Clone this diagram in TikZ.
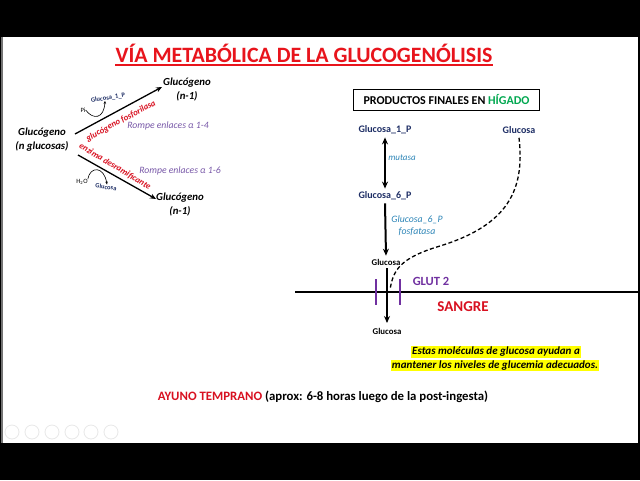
\documentclass[tikz,border=0pt]{standalone}
\usepackage{fontspec}
\setmainfont{Carlito}
\usetikzlibrary{arrows.meta}
\definecolor{tred}{HTML}{E8141C}
\definecolor{dred}{HTML}{D81020}
\definecolor{navy}{HTML}{1F2F66}
\definecolor{teal}{HTML}{2E86B8}
\definecolor{purp}{HTML}{7030A0}
\definecolor{lpurp}{HTML}{7858A8}
\definecolor{hgreen}{HTML}{00A850}
\definecolor{hyel}{HTML}{FFFF00}
\begin{document}
\begin{tikzpicture}[x=1pt,y=-1pt,
  lbl/.style={inner sep=0pt, align=center},
  bigglc/.style={lbl, font=\fontsize{10.8}{14}\selectfont\bfseries\itshape},
  rompe/.style={lbl, text=lpurp, font=\fontsize{9.7}{11}\selectfont\itshape},
  enz/.style={lbl, text=dred, font=\fontsize{8.7}{10}\selectfont\bfseries\itshape},
  tiny/.style={lbl, font=\fontsize{6.5}{8}\selectfont},
  tinyglc/.style={lbl, text=navy, font=\fontsize{6.5}{8}\selectfont\bfseries},
  rglc/.style={lbl, text=navy, font=\fontsize{10}{11}\selectfont\bfseries},
  bglc/.style={lbl, text=black, font=\fontsize{8.8}{10}\selectfont\bfseries},
  enzr/.style={lbl, text=teal, font=\fontsize{9.8}{12}\selectfont\itshape},
  thinarrow/.style={line width=1.3pt, -{Stealth[length=6pt,width=5pt]}},
  thickarrow/.style={line width=2pt, -{Stealth[length=7pt,width=6pt]}},
  smallcurve/.style={line width=0.6pt, -{Stealth[length=3pt,width=2.5pt]}},
  playbtn/.style={draw=black!9, line width=0.8pt}
]
\useasboundingbox (0,0) rectangle (640,480);
\fill[black] (0,0) rectangle (640,480);
\fill[white] (1,37) rectangle (638,443);
\fill[black!55] (1,37) rectangle (2.5,443);

% title
\node[lbl, text=tred, font=\fontsize{21.9}{24}\selectfont\bfseries] (title) at (304,53) {VÍA METABÓLICA DE LA GLUCOGENÓLISIS};
\draw[tred, line width=1.6pt] ([yshift=-2.6pt]title.base west) -- ([yshift=-2.6pt]title.base east);

% ---------- left ----------
\node[bigglc] (gn) at (42,140) {Glucógeno\\(n glucosas)};
\node[bigglc] (gtop) at (187,90) {Glucógeno\\(n-1)};
\node[bigglc] (gbot) at (180,205) {Glucógeno\\(n-1)};
\coordinate (a1s) at (75,134);
\coordinate (a1e) at (162,87);
\coordinate (a2s) at (78,155);
\coordinate (a2e) at (156,199);
\draw[thinarrow] (a1s) -- (a1e);
\draw[thinarrow] (a2s) -- (a2e);
\node[enz, rotate=28] (fosf) at (121,121) {glucógeno fosforilasa};
\node[enz, rotate=-31] (desr) at (115,166.5) {enzima desramificante};
\node[rompe] (r14) at (168,126) {Rompe enlaces α 1-4};
\node[rompe] (r16) at (180,171) {Rompe enlaces α 1-6};

\node[tiny] (pi) at (83,110) {Pi};
\node[tinyglc, rotate=9] (g1pl) at (108,98) {Glucosa\_1\_P};
\draw[smallcurve] (pi.east) .. controls (93,120) and (104,119) .. (g1pl.south -| 105,0);

\node[tiny] (h2o) at (82,182) {H\textsubscript{2}O};
\node[tinyglc, rotate=-8] (glcl) at (106,187) {Glucosa};
\draw[smallcurve] (h2o.north east) .. controls (90,166) and (104,166) .. (glcl.north -| 107,0);

% ---------- right ----------
\node[draw=black, line width=1.8pt, inner xsep=4pt, inner ysep=3pt, text=black,
      font=\fontsize{12}{13}\selectfont\bfseries, minimum width=186pt, minimum height=21pt] (box) at (446.5,100)
      {PRODUCTOS FINALES EN \textcolor{hgreen}{HÍGADO}};

\node[rglc] (g1p) at (385,130) {Glucosa\_1\_P};
\node[rglc] (glcr) at (519,130) {Glucosa};
\node[rglc] (g6p) at (385,196) {Glucosa\_6\_P};
\node[bglc] (glc1) at (386,262) {Glucosa};
\node[bglc] (glc2) at (387,331) {Glucosa};
\draw[line width=2pt, {Stealth[length=7pt,width=6pt]}-{Stealth[length=7pt,width=6pt]}] ([yshift=-3pt]g1p.south) -- ([yshift=3pt]g6p.north);
\node[enzr, font=\fontsize{9}{11}\selectfont\itshape] (mut) at (402,158) {mutasa};
\draw[thickarrow] ([yshift=-3pt]g6p.south) -- ([yshift=3pt]glc1.north);
\node[enzr] (g6pasa) at (417,226) {Glucosa\_6\_P\\fosfatasa};
\coordinate (a3e) at (387,323);
\draw[thickarrow] ([yshift=-3pt]glc1.south -| 387,0) -- (a3e);

% membrane
\coordinate (ml) at (295,292);
\coordinate (mr) at (638,292);
\draw[line width=2pt] (ml) -- (mr);
\coordinate (b1t) at (376,279);
\coordinate (b1b) at (376,305);
\coordinate (b2t) at (400,279);
\coordinate (b2b) at (400,305);
\draw[purp, line width=2pt] (b1t) -- (b1b);
\draw[purp, line width=2pt] (b2t) -- (b2b);
\node[lbl, text=purp, font=\fontsize{12.5}{14}\selectfont\bfseries] (glut) at (431,281) {GLUT 2};
\node[lbl, text=dred, font=\fontsize{15}{16}\selectfont\bfseries] (sangre) at (463,307) {SANGRE};

% dashed path
\coordinate (dend) at (390,290);
\draw[line width=1.3pt, dash pattern=on 4pt off 2.5pt] ([yshift=-4pt]glcr.south) .. controls (525,190) and (508,225) .. (440,246) .. controls (400,258) and (393,270) .. (dend);

% highlighted note
\node[lbl, fill=hyel, inner xsep=1pt, inner ysep=1pt, font=\fontsize{11}{12}\selectfont\bfseries\itshape] (n1) at (496,352) {Estas moléculas de glucosa ayudan a};
\node[lbl, fill=hyel, inner xsep=1pt, inner ysep=1pt, font=\fontsize{11}{12}\selectfont\bfseries\itshape] (n2) at (495,365.5) {mantener los niveles de glucemia adecuados.};

% bottom line
\node[lbl, font=\fontsize{12.8}{14}\selectfont\bfseries] (ayuno) at (323,397) {\textcolor{dred}{AYUNO TEMPRANO} (aprox: 6-8 horas luego de la post-ingesta)};

% player controls
\foreach \px/\nm in {12/p1,32/p2,52/p3,72/p4,91/p5,111/p6}{
  \node[playbtn, circle, minimum size=14pt, inner sep=0pt] (\nm) at (\px,432) {};
}
\end{tikzpicture}
\end{document}
